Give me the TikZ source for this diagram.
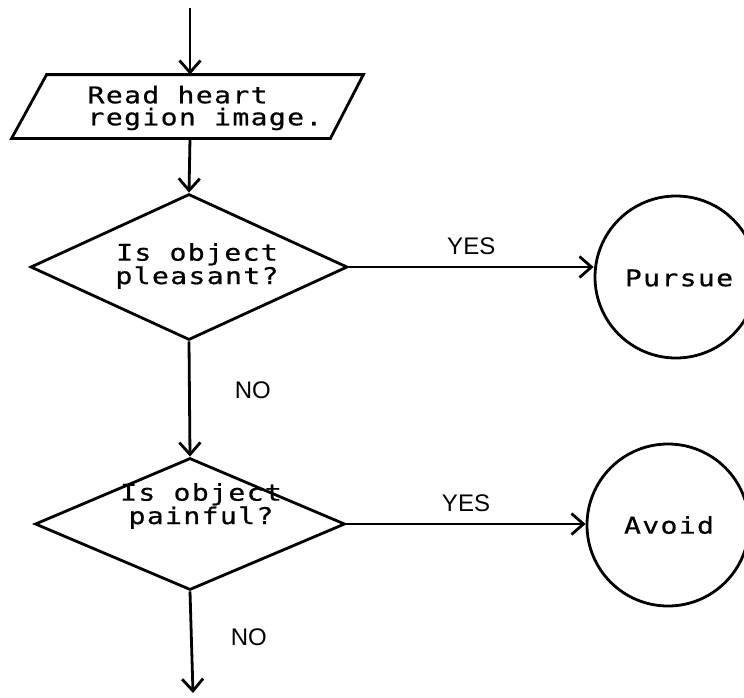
\documentclass[tikz,border=0pt]{standalone}
\usepackage{fontspec}
\usetikzlibrary{shapes.geometric,arrows.meta}
\newfontfamily\dotfont[FakeStretch=1.22,FakeBold=0.7,LetterSpace=6]{DejaVu Sans Mono}
\newfontfamily\labfont{Liberation Sans}
\begin{document}
\begin{tikzpicture}[x=1pt,y=-1pt,
  line width=2.8pt,
  every node/.style={inner sep=0pt,line width=2.8pt},
  arr/.style={-{Straight Barb[length=12pt,width=21pt]}},
  dtext/.style={font=\dotfont\fontsize{23}{22}\selectfont},
  ltext/.style={font=\labfont\fontsize{24}{26}\selectfont},
  iobox/.style={rectangle,minimum width=349pt,minimum height=61pt},
  decision/.style={draw,diamond,aspect=2.2},
  term/.style={draw,circle,minimum size=162pt}]
\useasboundingbox (0,0) rectangle (744,697);
\clip (0,0) rectangle (744,697);
% nodes
\coordinate (start) at (190,8);
\node[iobox] (read) at (187.5,106.5) {};
\draw ([xshift=35pt]read.north west) -- (read.north east)
      -- ([xshift=-33pt]read.south east) -- (read.south west) -- cycle;
\node[dtext,align=left] (readt) at (205,108) {Read heart\\region image.};
\node[decision,minimum width=317pt,minimum height=146pt] (d1) at (189,267) {};
\node[dtext,align=center] (d1t) at (197,266) {Is object\\pleasant?};
\node[term] (c1) at (676,277) {};
\node[dtext] (c1t) at (679,278) {Pursue};
\node[decision,minimum width=310pt,minimum height=132pt] (d2) at (190,524) {};
\node[dtext,align=center] (d2t) at (201,506) {Is object\\painful?};
\node[term] (c2) at (668,525) {};
\node[dtext] (c2t) at (669,525) {Avoid};
\coordinate (end) at (193,693);
% connectors
\draw[arr] (start) -- (read.north -| start);
\draw[arr] (read.south -| start) -- (d1.north);
\draw[arr] (d1.east) -- node[ltext,above=11pt] (yes1) {YES} (d1.east -| c1.west);
\draw[arr] (d1.south) -- node[ltext,pos=0.42,right=44pt] (no1) {NO} (d2.north);
\draw[arr] (d2.east) -- node[ltext,above=11pt] (yes2) {YES} (d2.east -| c2.west);
\draw[arr] (d2.south) -- node[ltext,pos=0.45,right=38pt] (no2) {NO} (end);
\end{tikzpicture}
\end{document}
